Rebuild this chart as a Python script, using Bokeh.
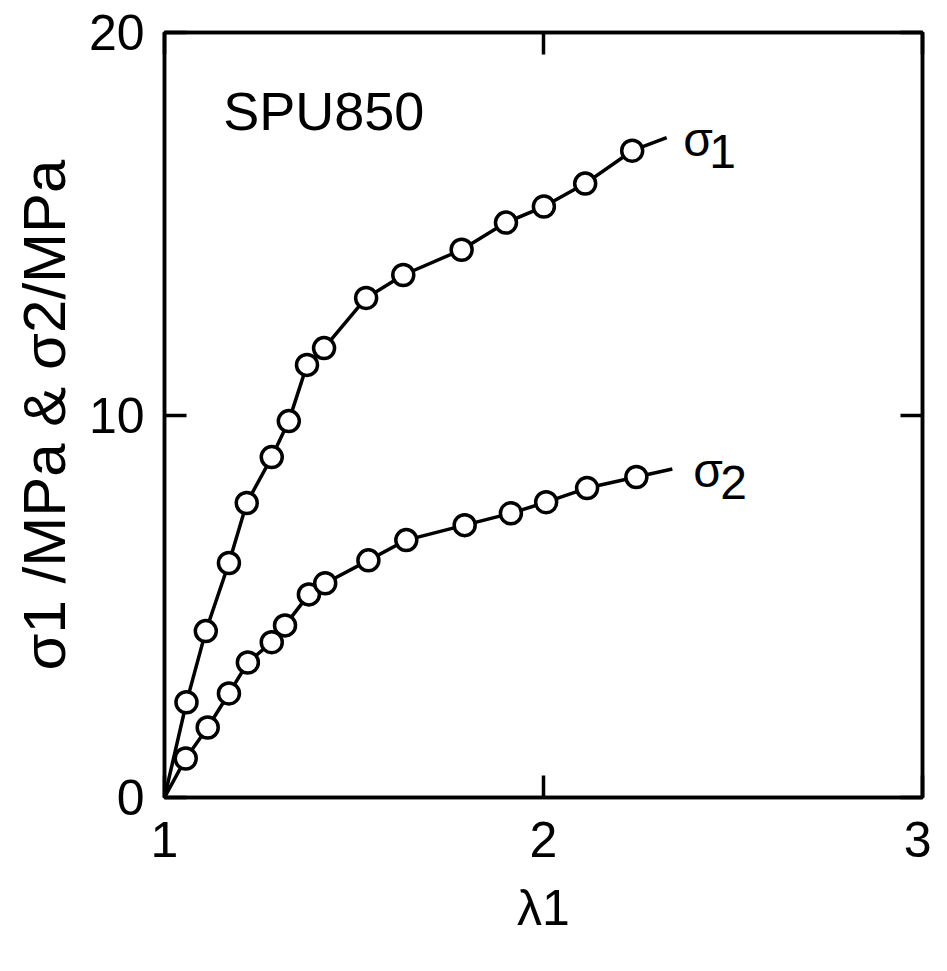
from bokeh.plotting import figure
from bokeh.models import Range1d, FixedTicker, LinearAxis, Label
from bokeh.embed import file_html
from bokeh.resources import INLINE

# ---- data ----
origin_x = 1.0
origin_y = 0.0

s1_x = [1.058, 1.109, 1.170, 1.217, 1.283, 1.328, 1.376, 1.421, 1.532, 1.630,
        1.784, 1.901, 2.001, 2.110, 2.234]
s1_y = [2.49, 4.35, 6.13, 7.70, 8.90, 9.84, 11.31, 11.75, 13.06, 13.66,
        14.32, 15.03, 15.45, 16.05, 16.91]
s1_tail_x = 2.325
s1_tail_y = 17.25

s2_x = [1.056, 1.114, 1.170, 1.220, 1.283, 1.318, 1.381, 1.424, 1.538, 1.638,
        1.792, 1.914, 2.007, 2.115, 2.245]
s2_y = [1.02, 1.83, 2.72, 3.53, 4.06, 4.50, 5.31, 5.60, 6.20, 6.73,
        7.12, 7.43, 7.72, 8.09, 8.38]
s2_tail_x = 2.340
s2_tail_y = 8.59

x_ticks = [1, 2, 3]
y_ticks = [0, 10, 20]
sample_name = "SPU850"
x_label = "λ1"
y_label = "σ1 /MPa & σ2/MPa"

FONT = "Liberation Sans"

p = figure(width=931, height=955, output_backend="svg", toolbar_location=None,
           x_range=Range1d(1, 3), y_range=Range1d(0, 20),
           min_border_left=164, min_border_right=9, min_border_top=32,
           min_border_bottom=158)
p.grid.visible = False
p.background_fill_color = "white"
p.border_fill_color = "white"
p.outline_line_color = "black"
p.outline_line_width = 3.5

for ax in (p.xaxis[0], p.yaxis[0]):
    ax.major_tick_in = 22
    ax.major_tick_out = 0
    ax.minor_tick_line_color = None
    ax.major_tick_line_width = 3.5
    ax.axis_line_width = 3.5
    ax.major_label_text_font = FONT
    ax.major_label_text_font_size = "50px"
    ax.major_label_text_color = "black"
    ax.axis_label_text_font = FONT
    ax.axis_label_text_font_style = "normal"
    ax.axis_label_text_color = "black"

p.xaxis.ticker = FixedTicker(ticks=x_ticks)
p.yaxis.ticker = FixedTicker(ticks=y_ticks)
p.xaxis.axis_label = x_label
p.yaxis.axis_label = y_label
p.xaxis.axis_label_text_font_size = "50px"
p.yaxis.axis_label_text_font_size = "60px"
p.xaxis.major_label_standoff = 24
p.xaxis.axis_label_standoff = 20
p.yaxis.major_label_standoff = 20
p.yaxis.axis_label_standoff = 8

top = LinearAxis(ticker=FixedTicker(ticks=x_ticks), major_tick_in=22, major_tick_out=0,
                 major_tick_line_width=3.5, axis_line_width=3.5, minor_tick_line_color=None,
                 major_label_text_color=None, major_label_text_font_size="1px",
                 major_label_standoff=0)
right = LinearAxis(ticker=FixedTicker(ticks=y_ticks), major_tick_in=22, major_tick_out=0,
                   major_tick_line_width=3.5, axis_line_width=3.5, minor_tick_line_color=None,
                   major_label_text_color=None, major_label_text_font_size="1px",
                   major_label_standoff=0)
p.add_layout(top, "above")
p.add_layout(right, "right")

# curves
p.line([origin_x] + s1_x + [s1_tail_x], [origin_y] + s1_y + [s1_tail_y],
       line_color="black", line_width=3.5)
p.line([origin_x] + s2_x + [s2_tail_x], [origin_y] + s2_y + [s2_tail_y],
       line_color="black", line_width=3.5)
p.scatter(s1_x, s1_y, marker="circle", size=21, fill_color="white",
          line_color="black", line_width=3.5)
p.scatter(s2_x, s2_y, marker="circle", size=21, fill_color="white",
          line_color="black", line_width=3.5)

# annotations
p.add_layout(Label(x=1.155, y=17.95, text=sample_name, text_font=FONT,
                   text_font_size="54px", text_baseline="middle", text_color="black"))

def sub_label(x, y, main, sub, size, dx):
    p.add_layout(Label(x=x, y=y, text=main, text_font=FONT, text_font_size=size,
                       text_baseline="middle", text_color="black"))
    p.add_layout(Label(x=x, y=y, text=sub, text_font=FONT, text_font_size=size,
                       text_baseline="middle", text_color="black",
                       x_offset=dx, y_offset=-12))

sub_label(2.369, 17.2, "σ", "1", "48px", 26)
sub_label(2.395, 8.56, "σ", "2", "48px", 27)

open("out.html", "w").write(file_html(p, INLINE))
